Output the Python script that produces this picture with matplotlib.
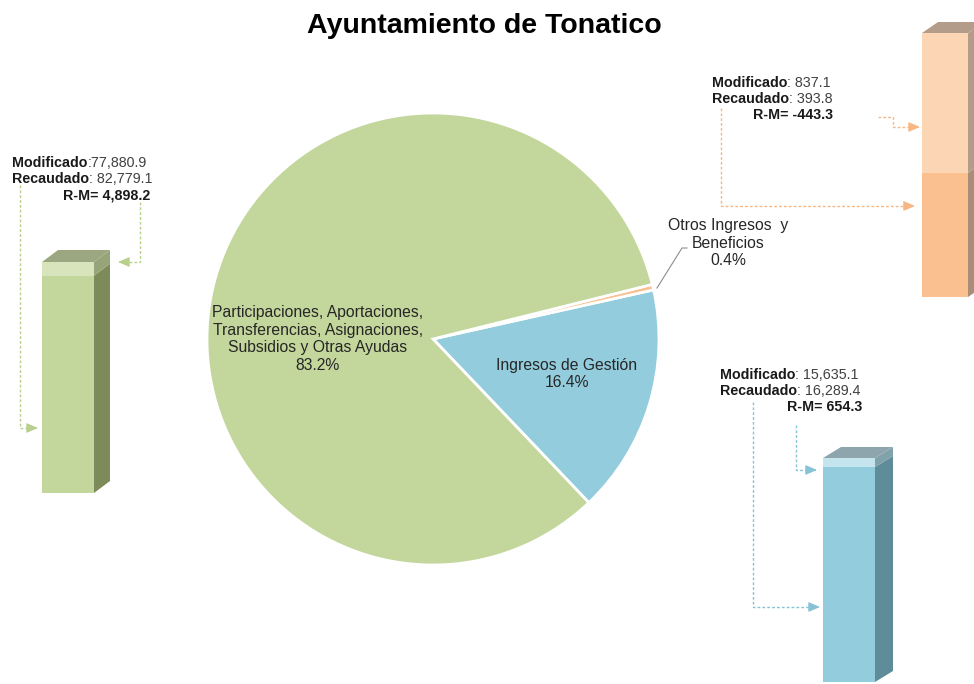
import matplotlib
matplotlib.use("Agg")
import matplotlib.pyplot as plt
from matplotlib.patches import Polygon

plt.rcParams['font.family'] = ['Liberation Sans', 'DejaVu Sans']

# data
categorias = ['Participaciones, Aportaciones,\nTransferencias, Asignaciones,\nSubsidios y Otras Ayudas',
              'Ingresos de Gestión',
              'Otros Ingresos  y\nBeneficios']
modificado = [77880.9, 15635.1, 837.1]
recaudado = [82779.1, 16289.4, 393.8]

col_front = ['#C3D69B', '#93CDDD', '#FAC090']
col_light = ['#D7E4BC', '#C4E4EE', '#FCD5B5']
col_side = ['#7D8B5A', '#5E8C98', '#A88D77']
col_side_l = ['#97A379', '#7FA2AB', '#B59C88']
col_top = ['#9CA782', '#8FA5AD', '#B39C89']
col_arrow = ['#B9D08C', '#86C3D4', '#F7B682']

fig = plt.figure(figsize=(9.74, 6.84), dpi=100)

# pie: center (433, 339) px, radius 226 px
cx, cy, r = 433, 339, 226
W, H = 974, 684
pax = fig.add_axes([(cx - r) / W, (H - cy - r) / H, 2 * r / W, 2 * r / H])
# counterclockwise order: Ingresos de Gestion, Otros, Participaciones
orden = [1, 2, 0]
pax.pie([recaudado[i] for i in orden], colors=[col_front[i] for i in orden],
        startangle=-46.4, radius=1,
        wedgeprops=dict(edgecolor='white', linewidth=2))
pax.set_xlim(-1, 1)
pax.set_ylim(-1, 1)

ax = fig.add_axes([0, 0, 1, 1])
ax.set_xlim(0, W)
ax.set_ylim(H, 0)
ax.axis('off')

fig.text(0.497, 1 - 26 / H, 'Ayuntamiento de Tonatico', ha='center', va='center',
         fontsize=20.5, fontweight='bold', color='black')

total = sum(recaudado)
pct = [v / total * 100 for v in recaudado]
txtc = '#262626'
ax.text(318, 339, '%s\n%.1f%%' % (categorias[0], pct[0]), ha='center', va='center',
        fontsize=11.3, color=txtc, linespacing=1.2)
ax.text(567, 374, '%s\n%.1f%%' % (categorias[1], pct[1]), ha='center', va='center',
        fontsize=11.3, color=txtc, linespacing=1.2)
ax.text(728, 243, '%s\n%.1f%%' % (categorias[2], pct[2]), ha='center', va='center',
        fontsize=11.3, color=txtc, linespacing=1.2)
ax.plot([657, 682, 687], [288, 248, 248], color='#8C8C8C', lw=0.8)

# 3D bars
bars = [
    dict(x=42, w=52, base=493, px=231, dx=16, dy=12),
    dict(x=823, w=52, base=682, px=224, dx=18, dy=11),
    dict(x=922, w=46, base=297, px=264, dx=16, dy=11),
]


def bar3d(i, b):
    m, rc = modificado[i], recaudado[i]
    esc = b['px'] / max(m, rc)
    h_low = min(m, rc) * esc
    h_tot = max(m, rc) * esc
    x0, x1 = b['x'], b['x'] + b['w']
    y0 = b['base']
    ym = y0 - h_low
    yt = y0 - h_tot
    dx, dy = b['dx'], b['dy']
    ax.add_patch(Polygon([(x0, y0), (x1, y0), (x1, ym), (x0, ym)], closed=True,
                         facecolor=col_front[i], edgecolor='none'))
    ax.add_patch(Polygon([(x0, ym), (x1, ym), (x1, yt), (x0, yt)], closed=True,
                         facecolor=col_light[i], edgecolor='none'))
    ax.add_patch(Polygon([(x1, y0), (x1 + dx, y0 - dy), (x1 + dx, ym - dy), (x1, ym)],
                         closed=True, facecolor=col_side[i], edgecolor='none'))
    ax.add_patch(Polygon([(x1, ym), (x1 + dx, ym - dy), (x1 + dx, yt - dy), (x1, yt)],
                         closed=True, facecolor=col_side_l[i], edgecolor='none'))
    ax.add_patch(Polygon([(x0, yt), (x1, yt), (x1 + dx, yt - dy), (x0 + dx, yt - dy)],
                         closed=True, facecolor=col_top[i], edgecolor='none'))


for i, b in enumerate(bars):
    bar3d(i, b)

# annotations
renderer = fig.canvas.get_renderer()


def fmt(v):
    return '{:,.1f}'.format(v)


def etiqueta(x, y, bold, normal):
    t = ax.text(x, y, bold, ha='left', va='center', fontsize=10.3, fontweight='bold',
                color='#1A1A1A')
    bb = t.get_window_extent(renderer)
    ax.text(x + bb.width, y, normal, ha='left', va='center', fontsize=10.3, color='#404040')


notas = [
    dict(x=12, y=163, sep='', rm_x=150),
    dict(x=720, y=375, sep=' ', rm_x=862),
    dict(x=712, y=83, sep=' ', rm_x=833),
]
for i, n in enumerate(notas):
    etiqueta(n['x'], n['y'], 'Modificado', ':' + n['sep'] + fmt(modificado[i]))
    etiqueta(n['x'], n['y'] + 16, 'Recaudado', ': ' + fmt(recaudado[i]))
    ax.text(n['rm_x'], n['y'] + 32, 'R-M= ' + fmt(recaudado[i] - modificado[i]),
            ha='right', va='center', fontsize=10.3, fontweight='bold', color='#1A1A1A')

flechas = [
    (0, [(20, 185), (20, 428), (38, 428)]),
    (0, [(140, 202), (140, 262), (118, 262)]),
    (1, [(753, 402), (753, 607), (820, 607)]),
    (1, [(796, 425), (796, 470), (817, 470)]),
    (2, [(721, 108), (721, 206), (915, 206)]),
    (2, [(878, 117), (893, 117), (893, 127), (920, 127)]),
]
for i, pts in flechas:
    xs = [p[0] for p in pts]
    ys = [p[1] for p in pts]
    c = col_arrow[i]
    ax.plot(xs[:-1] + [xs[-1] - (8 if xs[-1] > xs[-2] else -8)], ys, color=c, lw=1,
            linestyle=(0, (2, 1.5)))
    sgn = 1 if xs[-1] > xs[-2] else -1
    ax.annotate('', xy=(xs[-1], ys[-1]), xytext=(xs[-1] - sgn * 10, ys[-1]),
                arrowprops=dict(arrowstyle='-|>,head_length=0.7,head_width=0.3',
                                color=c, lw=0.8, shrinkA=0, shrinkB=0))

fig.savefig('out.png', dpi=100)
